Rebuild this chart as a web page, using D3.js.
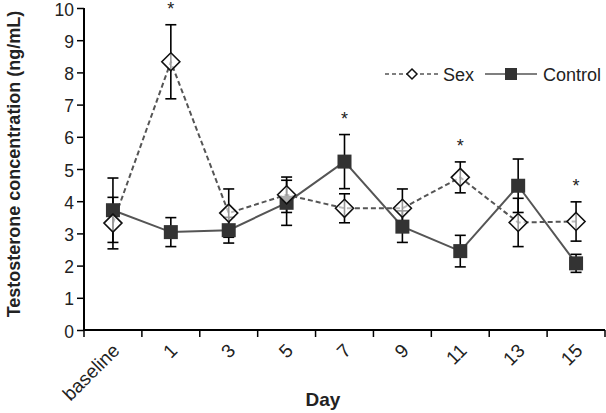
<!DOCTYPE html>
<html><head><meta charset="utf-8">
<script src="https://cdn.jsdelivr.net/npm/d3@7"></script>
<style>body{margin:0;background:#fff}svg{display:block}text{font-family:"Liberation Sans",Arial,sans-serif}</style>
</head><body>
<script>
const categories = ["baseline","1","3","5","7","9","11","13","15"];
const sexValues = [3.32, 8.33, 3.63, 4.2, 3.78, 3.78, 4.74, 3.34, 3.37];
const sexErrors = [0.8, 1.15, 0.75, 0.55, 0.45, 0.6, 0.48, 0.75, 0.61];
const controlValues = [3.72, 3.04, 3.1, 3.95, 5.23, 3.21, 2.45, 4.48, 2.07];
const controlErrors = [1.0, 0.45, 0.4, 0.7, 0.84, 0.49, 0.49, 0.83, 0.28];
const significant = [false, true, false, false, true, false, true, false, true];
const yTicks = [0,1,2,3,4,5,6,7,8,9,10];

const W = 606, H = 413;
const svg = d3.select("body").append("svg").attr("width", W).attr("height", H);
const x = d3.scaleBand().domain(categories).range([84, 605]);
const y = d3.scaleLinear().domain([0, 10]).range([330, 8]);
const cx = d => x(d) + x.bandwidth() / 2;

// axes
const yAxis = d3.axisLeft(y).tickValues(yTicks).tickSize(7).tickPadding(3);
const gy = svg.append("g").attr("transform", "translate(84,0)").call(yAxis);
gy.select(".domain").attr("stroke", "#000").attr("stroke-width", 2).attr("d", "M0,8V330");
gy.selectAll(".tick line").attr("stroke", "#000").attr("stroke-width", 1.5);
gy.selectAll(".tick text").attr("font-size", 17.5).attr("dy", "0.4em").attr("fill", "#222");

const gx = svg.append("g").attr("transform", "translate(0,330)");
gx.append("line").attr("x1", 84).attr("x2", 605).attr("stroke", "#000").attr("stroke-width", 2);
const bounds = categories.map(c => x(c)).concat([x(categories[categories.length-1]) + x.bandwidth()]);
gx.selectAll(".xt").data(bounds).enter().append("line")
  .attr("x1", d => d).attr("x2", d => d).attr("y1", 0).attr("y2", 7)
  .attr("stroke", "#000").attr("stroke-width", 1.5);
gx.selectAll(".xl").data(categories).enter().append("text")
  .attr("transform", d => `translate(${cx(d) + 3},${17}) rotate(-45)`)
  .attr("text-anchor", "end").attr("dy", "0.35em")
  .attr("font-size", 19).attr("fill", "#222").text(d => d);

svg.append("text").attr("x", 323).attr("y", 406).attr("text-anchor", "middle")
  .attr("font-size", 19).attr("font-weight", "bold").attr("fill", "#222").text("Day");
svg.append("text").attr("transform", "translate(20,164) rotate(-90)").attr("text-anchor", "middle")
  .attr("font-size", 18).attr("font-weight", "bold").attr("fill", "#222")
  .text("Testosterone concentration (ng/mL)");

const line = d3.line().x((d, i) => cx(categories[i])).y(d => y(d));

// lines
svg.append("path").datum(controlValues).attr("d", line).attr("fill", "none")
  .attr("stroke", "#555").attr("stroke-width", 2);
svg.append("path").datum(sexValues).attr("d", line).attr("fill", "none")
  .attr("stroke", "#555").attr("stroke-width", 2).attr("stroke-dasharray", "5,3");

// error bars
function errBars(vals, errs) {
  const g = svg.append("g").attr("stroke", "#000").attr("stroke-width", 1.6);
  vals.forEach((v, i) => {
    const c = cx(categories[i]);
    g.append("line").attr("x1", c).attr("x2", c).attr("y1", y(v + errs[i])).attr("y2", y(v - errs[i]));
    [v + errs[i], v - errs[i]].forEach(e => g.append("line")
      .attr("x1", c - 5.5).attr("x2", c + 5.5).attr("y1", y(e)).attr("y2", y(e)));
  });
}
errBars(controlValues, controlErrors);
errBars(sexValues, sexErrors);

// markers
svg.selectAll(".sq").data(controlValues).enter().append("rect")
  .attr("x", (d, i) => cx(categories[i]) - 7).attr("y", d => y(d) - 7)
  .attr("width", 14).attr("height", 14).attr("fill", "#333");
const diamond = (c, v, r) => `M${c},${y(v)-r}L${c+r},${y(v)}L${c},${y(v)+r}L${c-r},${y(v)}Z`;
svg.selectAll(".dm").data(sexValues).enter().append("path")
  .attr("d", (d, i) => diamond(cx(categories[i]), d, 9))
  .attr("fill", "#fff").attr("fill-opacity", 0.6).attr("stroke", "#111").attr("stroke-width", 1.6);

// asterisks
svg.selectAll(".ast").data(categories.filter((c, i) => significant[i])).enter().append("text")
  .attr("x", d => cx(d)).attr("y", d => {
    const i = categories.indexOf(d);
    return y(Math.max(sexValues[i] + sexErrors[i], controlValues[i] + controlErrors[i])) - 10;
  })
  .attr("text-anchor", "middle").attr("font-size", 18).attr("fill", "#222").text("*");

// legend
const lg = svg.append("g").attr("transform", "translate(0,74)");
lg.append("line").attr("x1", 385).attr("x2", 438).attr("stroke", "#555").attr("stroke-width", 1.5).attr("stroke-dasharray", "4,3");
lg.append("path").attr("d", "M412,-5L417,0L412,5L407,0Z").attr("fill", "#fff").attr("stroke", "#111").attr("stroke-width", 1.5);
lg.append("text").attr("x", 443).attr("y", 6.5).attr("font-size", 18).attr("fill", "#222").text("Sex");
lg.append("line").attr("x1", 485).attr("x2", 537).attr("stroke", "#555").attr("stroke-width", 1.5);
lg.append("rect").attr("x", 505).attr("y", -6).attr("width", 12).attr("height", 12).attr("fill", "#333");
lg.append("text").attr("x", 543).attr("y", 6.5).attr("font-size", 18).attr("fill", "#222").text("Control");
</script>
</body></html>
